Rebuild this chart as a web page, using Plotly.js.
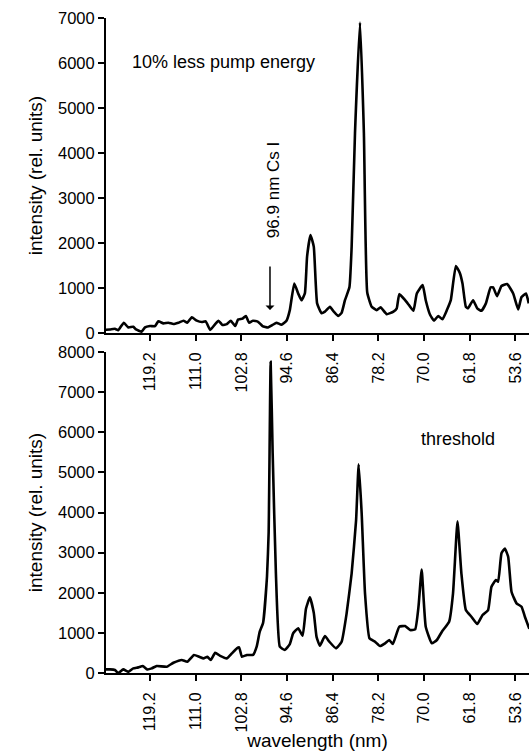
<!DOCTYPE html>
<html><head><meta charset="utf-8">
<script src="https://cdn.plot.ly/plotly-3.0.1.min.js"></script>
<style>html,body{margin:0;padding:0;background:#fff}#chart{width:529px;height:751px}</style>
</head><body><div id="chart"></div>
<script>
// Top panel: 10% less pump energy
const wlTop = [127.3,126.4,125.5,124.9,123.9,123.1,122.2,121.7,120.7,120.1,119.2,118.3,117.7,116.8,115.9,115.0,114.1,113.2,112.5,111.7,110.8,109.9,109.2,108.4,107.5,106.9,106.2,105.4,104.7,103.9,103.4,102.6,102.0,101.4,100.7,99.8,99.0,98.0,97.2,96.5,95.6,94.7,94.1,93.3,92.6,92.0,91.4,91.0,90.4,89.8,89.2,88.4,87.8,86.9,86.2,85.4,84.8,84.2,83.4,83.0,82.4,81.5,80.8,80.2,79.4,78.5,77.8,76.7,75.5,74.9,74.45,73.4,72.7,71.9,71.3,70.25,69.7,68.9,68.2,67.45,66.7,65.9,65.2,64.3,63.6,63.1,62.5,62.1,61.2,60.45,59.7,58.9,58.05,57.6,56.9,56.1,55.1,54.0,53.1,52.5,51.7,51.2];
const intTop = [70,80,95,65,230,125,140,80,30,125,155,155,260,215,230,200,230,275,230,350,275,245,260,70,200,275,180,200,275,155,300,320,380,230,275,250,155,125,180,230,185,275,510,1100,880,730,880,1700,2180,1920,660,440,475,585,475,380,450,730,1015,1920,4440,6900,4440,900,585,510,570,420,475,550,865,730,620,495,880,1065,730,400,275,380,305,510,730,1490,1340,1100,585,550,730,550,495,660,1015,1015,820,1045,1090,880,525,800,880,660];

// Bottom panel: threshold
const wlBot = [127.3,126.4,125.5,124.9,124.0,123.1,122.2,121.3,120.5,119.7,118.9,118.0,116.2,115.0,113.5,112.5,111.3,110.35,109.6,108.9,108.3,107.5,106.6,105.4,104.5,103.6,103.2,102.7,101.8,100.7,100.05,99.5,98.9,98.2,97.9,97.54,97.18,96.6,95.9,95.0,94.1,93.5,92.6,91.8,91.2,90.5,89.8,89.3,88.7,87.8,87.0,85.8,84.8,83.9,83.0,82.2,81.74,81.2,80.6,79.8,78.8,77.9,77.0,76.25,75.6,74.45,73.4,72.5,71.6,71.0,70.43,69.7,68.6,67.7,66.8,65.5,64.8,64.0,63.3,62.5,61.5,60.45,59.5,58.5,57.9,57.1,56.7,56.1,55.5,54.9,54.3,53.4,52.5,51.9,51.1];
const intBot = [90,90,75,0,90,30,115,140,175,90,115,175,155,255,325,280,450,405,365,405,325,505,425,365,490,615,640,405,450,450,655,1030,1250,2400,3500,7760,5480,2490,656,573,720,990,1114,930,1600,1886,1500,900,680,922,780,615,780,1488,2485,3813,5200,3980,1986,865,780,673,740,822,723,1154,1171,1071,1089,1652,2580,1154,740,822,1030,1279,1986,3780,2485,1570,1403,1221,1445,1570,2151,2318,2275,2983,3100,2898,2026,1737,1652,1403,1100];

const tickVals = [119.2,111.0,102.8,94.6,86.4,78.2,70.0,61.8,53.6];
const tickText = ["119.2","111.0","102.8","94.6","86.4","78.2","70.0","61.8","53.6"];

const FONT = "Liberation Sans, Arial, Helvetica, sans-serif";
const lineStyle = {color:'#000', width:2.6, shape:'spline', smoothing:0.4};

const traces = [
  {x: wlTop, y: intTop, xaxis:'x', yaxis:'y', mode:'lines', line: lineStyle, hoverinfo:'skip'},
  {x: wlBot, y: intBot, xaxis:'x2', yaxis:'y2', mode:'lines', line: lineStyle, hoverinfo:'skip'}
];

const xCommon = {
  range:[127.1, 51.16], tickmode:'array', tickvals: tickVals, ticktext: tickText,
  tickangle:-90, ticks:'outside', ticklen:6, tickwidth:2, tickcolor:'#000',
  showline:true, linecolor:'#000', linewidth:2, showgrid:false, zeroline:false,
  tickfont:{size:16, family:FONT, color:'#000'}, ticklabelstandoff:5, fixedrange:true
};
const yCommon = {
  ticks:'outside', ticklen:6, tickwidth:2, tickcolor:'#000', dtick:1000,
  showline:true, linecolor:'#000', linewidth:2, showgrid:false, zeroline:false,
  tickfont:{size:16.5, family:FONT, color:'#000'}, fixedrange:true,
  title:{text:'intensity (rel. units)', font:{size:19, family:FONT, color:'#000'}, standoff:10}
};

const layout = {
  width:529, height:751,
  margin:{l:106, r:0, t:18, b:78},
  paper_bgcolor:'#fff', plot_bgcolor:'#fff',
  showlegend:false,
  font:{family:FONT, color:'#000'},
  xaxis: Object.assign({}, xCommon, {anchor:'y'}),
  yaxis: Object.assign({}, yCommon, {domain:[0.519,1], range:[0,7000], anchor:'x'}),
  xaxis2: Object.assign({}, xCommon, {anchor:'y2',
    title:{text:'wavelength (nm)', font:{size:19, family:FONT, color:'#000'}, standoff:1}}),
  yaxis2: Object.assign({}, yCommon, {domain:[0,0.490], range:[0,8000], anchor:'x2'}),
  annotations:[
    {xref:'x', yref:'y', x:122.8, y:6022, text:'10% less pump energy', showarrow:false,
     xanchor:'left', yanchor:'middle', font:{size:18, family:FONT, color:'#000'}},
    {xref:'x', yref:'y', x:97.1, y:3178, text:'96.9 nm Cs I', showarrow:false, textangle:-90,
     xanchor:'center', yanchor:'middle', font:{size:17, family:FONT, color:'#000'}},
    {xref:'x', yref:'y', x:97.66, y:511, ax:0, ay:-45, text:'', showarrow:true,
     arrowhead:1, arrowsize:1, arrowwidth:1.5, arrowcolor:'#000'},
    {xref:'x2', yref:'y2', x:70.9, y:5831, text:'threshold', showarrow:false,
     xanchor:'left', yanchor:'middle', font:{size:18, family:FONT, color:'#000'}}
  ]
};

Plotly.newPlot('chart', traces, layout, {staticPlot:true, displayModeBar:false});
</script>
</body></html>
